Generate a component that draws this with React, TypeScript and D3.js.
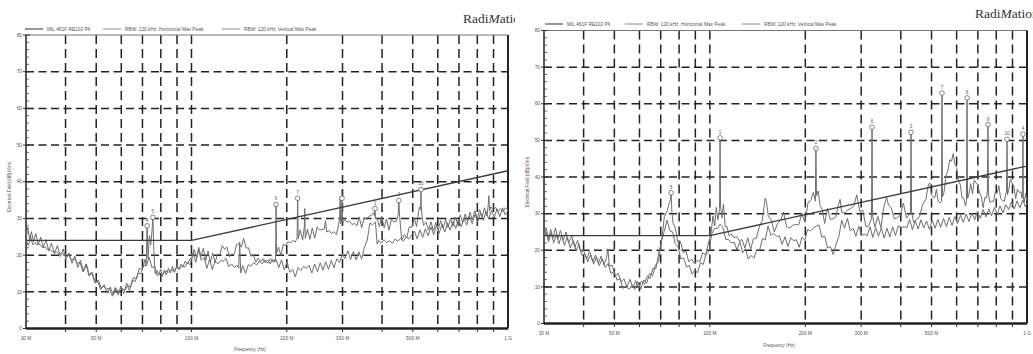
import React from "react";
import * as d3 from "d3";

type Pt = [number, number];

const freqTicks = [30, 50, 100, 200, 300, 500, 1000];
const freqTickLabels = ["30 M", "50 M", "100 M", "200 M", "300 M", "500 M", "1 G"];
const gridFreqs = [40, 50, 60, 70, 80, 90, 100, 200, 300, 400, 500, 600, 700, 800, 900];
const levelTicks = [0, 10, 20, 30, 40, 50, 60, 70, 80];
const minorLevels = [2, 4, 6, 8, 12, 14, 16, 18, 22, 24, 26, 28, 32, 34, 36, 38, 42, 44, 46, 48, 52, 54, 56, 58, 62, 64, 66, 68, 72, 74, 76, 78];
const legendLabels = ["MIL 461F RE102 PK", "RBW: 120 kHz, Horizontal Max Peak", "RBW: 120 kHz, Vertical Max Peak"];
const xTitle = "Frequency (Hz)";
const yTitle = "Electrical Field (dBµV/m)";

const limitLine: Pt[] = [[30, 24], [100, 24], [1000, 43]];

const leftH: Pt[] = [[30,25.2],[30.4,27.6],[30.8,24.1],[31.2,26.4],[31.7,23.6],[32.2,25.9],[32.8,22.8],[33.4,24.9],[34,22.1],[34.7,24.2],[35.4,21.2],[36.1,23.3],[36.9,20.4],[37.7,22.6],[38.5,19.6],[39.3,21.7],[40.1,18.9],[41,20.6],[41.9,17.8],[42.8,19.7],[43.7,16.6],[44.6,18.6],[45.6,15.6],[46.6,17.5],[47.6,14.4],[48.6,15.1],[49.7,12.3],[50.8,13.2],[51.9,10.9],[53,11.9],[54.2,9.6],[55.4,11.3],[56.6,9.1],[57.8,10.9],[59,9.8],[60.3,10.9],[61.6,10.4],[62.9,11.7],[64.2,11.3],[65.6,13.9],[67,13.6],[68.4,16.4],[69.9,16.1],[71.4,18.9],[71.9,17.1],[72.4,28],[72.9,19.1],[73.6,25.3],[74.3,22.8],[75,26.4],[75.5,30.3],[76,21.6],[76.8,14.9],[77.8,15.8],[78.8,14.6],[79.9,16.1],[81,14.2],[82.1,15.9],[83.3,14.6],[84.5,16.4],[85.8,15.1],[87.1,16.9],[88.4,15.3],[89.8,17.1],[91.2,16.2],[92.6,17.6],[94.1,16.9],[95.6,18.4],[97.1,17.6],[98.7,18.9],[100.3,19.1],[102,21.6],[103.7,19.2],[105.4,22.1],[107.2,19.6],[109,21.9],[110.9,18.5],[112.8,21.1],[114.7,18.1],[116.7,20.6],[118.7,17.9],[120.8,20.3],[122.9,20.1],[125,22.6],[127.2,21.6],[129.4,22.2],[131.7,19.5],[134,20.4],[136.4,20.1],[138.8,22.9],[141.2,23.1],[143.7,22.2],[146.2,24.5],[148.8,21.9],[151.4,22],[154.1,19.7],[156.8,20.1],[159.6,18.1],[162.4,19.2],[165.3,18.2],[168.2,19],[171.2,17.9],[174.2,18.7],[177.3,17.6],[180.4,18.9],[183.5,18.1],[184.4,19.5],[185,33.8],[185.6,20.4],[188.3,22.2],[191.6,19.9],[195,23],[198.4,22.6],[201.9,23.7],[205.5,23.3],[209.1,24],[212.8,23.6],[215.6,24.6],[216.5,35.5],[217.4,24.4],[220.6,26.9],[224.5,24.1],[227.3,27.9],[228,32.7],[228.8,24.6],[232.5,27.1],[236.6,24.3],[240.8,27.4],[245.1,24.6],[249.4,27.7],[253.8,26.8],[258.3,27],[262.8,27.1],[265,29.4],[267.5,26.3],[272.2,26.7],[277,25.9],[281.9,26.4],[286.9,25.6],[291.9,28.4],[294,31],[295,36],[296,28.5],[297.8,29.2],[299,35.5],[300.2,28.8],[305,29.6],[310.4,29],[315.9,29.2],[321.5,28.3],[327.2,28.7],[333,28],[338.9,30.4],[344.9,27.5],[351,30.2],[357.2,29.8],[363.5,30.6],[369.9,30.8],[376.4,31.6],[378.5,30.6],[380,32.7],[381.5,29.8],[385.4,30.2],[392.2,27.8],[399.1,30.6],[406.1,27.5],[413.2,29.9],[420.5,26.8],[427.9,29.6],[435.4,29.1],[443,29.2],[448,30.4],[450.2,31.2],[452,34.9],[453.8,31.6],[458,27.2],[462,24.1],[470.5,25.6],[479,24.8],[487.6,27.7],[496.4,27.6],[505.3,30.1],[514.4,27.8],[521.5,31.6],[525,33.1],[529.7,32.4],[531,37.9],[532.3,32.8],[536,30.1],[541,28.1],[550.8,29],[560.7,26.8],[570.8,29.1],[581,26.7],[591.5,28.9],[602.1,26.9],[612.9,29.4],[623.9,27.3],[635.1,29.7],[646.5,27.5],[658.1,30],[669.9,27.9],[681.9,30.4],[694.1,28.3],[706.5,31],[719.1,28.8],[731.9,31.2],[744.9,29.3],[758.2,31.7],[771.7,29.6],[785.4,32.1],[799.4,30],[813.6,32.4],[828.1,30.4],[842.8,32.9],[857.8,30.7],[866,33.6],[870,36.2],[874,32],[882,33.2],[897.9,32.3],[914.1,33],[930.5,32],[947.2,32.7],[964.1,31.8],[981.4,32.9],[1000,32.5]];

const leftV: Pt[] = [[30,24.1],[30.5,22.6],[31,25.2],[31.5,22.8],[32,23.4],[32.6,22.9],[33.2,22.9],[33.8,22.1],[34.5,22.2],[35.2,21.4],[35.9,21.4],[36.7,20.7],[37.5,20.9],[38.3,20.2],[39.1,20.6],[40,19.6],[40.9,19.9],[41.8,18.7],[42.7,19],[43.6,17.8],[44.5,17.9],[45.4,15.4],[46.4,17.5],[47.4,14.4],[48.4,15.4],[49.4,12.7],[50.5,13],[51.6,10.6],[52.7,11.6],[53.8,10.7],[55,11],[56.2,8.8],[57.4,11.2],[58.6,9.1],[59.8,11.6],[61.1,9.5],[62.4,12.4],[63.7,10.3],[65,13.2],[66.4,12.8],[67.8,14.9],[69.2,15],[70.6,17.2],[72,17.1],[73.5,19.4],[75,16.6],[76.5,17],[78,14.3],[79.6,15.1],[81.2,14.8],[82.8,15.7],[84.5,15.3],[86.2,16.1],[87.9,15.6],[89.7,16.6],[91.5,16.1],[93.3,17],[95.2,16.7],[97.1,17.9],[99.1,17.4],[101.1,20.6],[103.2,18.1],[105.3,21.4],[107.4,18.6],[109.6,19.4],[111.8,16.4],[114.1,18.9],[116.4,16],[118.7,18.4],[121.1,17.6],[123.6,18.5],[126.1,18.4],[128.6,19.1],[131.2,16.8],[133.9,17.6],[136.6,16.7],[139.4,17.2],[141,16.4],[142,23.6],[143,15.1],[145.2,17.1],[148.2,15],[151.2,17.4],[154.3,17],[157.4,18],[160.6,17.3],[163.9,18.4],[167.2,17.6],[170.6,18.7],[174.1,17.8],[177.6,19],[181.2,18.1],[184.9,18.9],[188.7,16.6],[192.5,18.7],[196.4,16],[200.4,18.1],[204.5,15.3],[208.6,16.1],[212.8,14.1],[217.1,16.6],[221.5,15.8],[226,16.9],[230.6,16.4],[235.3,17.2],[240.1,15.1],[245,17.6],[250,15.5],[255.1,17.9],[260.3,15.9],[265.6,18.2],[271,16.1],[276.5,18.6],[282.1,16.5],[287.8,19],[293.6,18],[299.6,20.2],[305.7,19.1],[311.9,21.2],[318.2,18.8],[324.7,21],[331.3,18.7],[338,20.9],[344.9,18.9],[351.9,22.2],[359,24],[366.3,28.7],[373.7,28.3],[381.3,29],[386,23],[390,24],[397.9,23.3],[406,24.2],[414.2,23.4],[422.6,23.9],[431.2,23.2],[439.9,24.4],[448.8,23.7],[457.9,24.6],[467.2,23.8],[476.6,24.9],[486.3,24.4],[506.2,26.5],[516.4,24.4],[526.9,26.9],[537.5,24.8],[548.4,27.2],[559.5,25.3],[570.8,27.7],[582.4,25.6],[594.2,28],[606.2,26],[618.5,28.4],[631,26.3],[643.8,28.8],[656.8,26.8],[670.1,29.2],[683.7,27.3],[697.5,29.7],[711.6,27.7],[726,30.1],[740.7,28.2],[755.7,30.6],[771,28.6],[786.6,31.1],[802.5,29.1],[818.8,31.5],[835.4,29.5],[852.3,31.9],[869.5,29.8],[887.1,32.2],[905.1,30.3],[923.4,32.6],[942.1,30.5],[961.2,32.9],[980.6,30.9],[1000,32.2]];

const rightH: Pt[] = [[30,24.2],[30.5,25.9],[31,23],[31.5,25.7],[32,23.3],[32.6,26.1],[33.2,23.1],[33.8,25.4],[34.5,22.7],[35.2,25],[35.9,22],[36.7,23.9],[37.5,20.8],[38.3,22.7],[39.1,19.6],[40,19.9],[40.9,17.6],[41.8,19.7],[42.7,16.8],[43.6,18.7],[44.5,16.4],[45.4,18.4],[46.4,16],[47.2,17.9],[47.7,20.4],[48.2,15.7],[49.2,15.9],[50.3,13],[51.4,13.7],[52.5,11.3],[53.6,12.2],[54.8,10],[56,12.1],[57.2,9.8],[58.4,11.7],[59.6,9.6],[60.9,11.6],[62.2,10.7],[63.5,13],[64.8,12.3],[66.2,15.1],[67.6,15],[69,19.2],[70.4,22.3],[71.9,29.2],[73.4,30.8],[74.5,33],[75.1,33.8],[75.5,35.7],[75.9,30.6],[76.6,27.3],[77.8,26.2],[79.2,22.3],[80.8,22.4],[82.4,19.4],[84.1,19.7],[85.8,16.8],[87.6,17.6],[89.4,16.4],[91.2,17.2],[93.1,17],[95,19.4],[97,18.6],[99,22],[100.8,24.3],[102.3,29.4],[103.6,26.6],[104.8,31.7],[106,28.3],[107.3,31.4],[107.7,50.7],[108.1,32.1],[109.2,28.8],[110.4,32.6],[111.8,26.4],[113.3,26.4],[115,24],[117,24.4],[119.2,23.4],[121.5,23.7],[123.9,22.6],[126.4,22.9],[129,20.6],[131.7,23.4],[134.5,20.3],[137.3,23.2],[140.2,23.3],[143.2,26.4],[146.3,28.1],[149.5,34.2],[151,33.1],[152.8,29.4],[156.2,28.2],[159.7,25],[163.3,27.2],[167,28.1],[170.7,30.4],[174.5,26.4],[178.4,26.1],[182.4,26.8],[186.5,27],[190.7,27],[195,29.9],[199.4,27.6],[203.9,32.9],[208.5,33.8],[212,35.8],[215.1,33.4],[216,47.8],[216.9,34.9],[219.6,36.2],[222.5,32.3],[226,31.2],[230.2,27.3],[234.9,31.4],[239.7,28.4],[244.6,28.6],[249.6,29.1],[254.7,32.6],[257.5,33.9],[260.4,30.4],[266.2,30.2],[272.1,31],[278.1,31.4],[284.3,32.1],[290.6,35.1],[297.1,30.6],[303.7,30.9],[310.5,26.4],[316.4,26.6],[323.3,28.6],[324.6,53.6],[325.9,29.4],[331.3,26.3],[338.7,29.2],[346.2,26.1],[353.9,32],[360.8,34.4],[366,32.3],[373.3,31.6],[381.6,28.6],[390,28.9],[398.7,29.6],[407.6,32.9],[416.6,28.8],[424,29.6],[429.1,30.2],[430.8,52.2],[432.5,30.6],[439.1,27.6],[448.9,28.4],[458.9,29.3],[469.1,32.6],[479.5,33.8],[488.9,37.9],[494,38.4],[499.5,35.1],[505,34.6],[511.8,34.3],[518,36.6],[524.5,33.4],[531,32.9],[537.6,33.4],[539.5,62.9],[541.4,34.6],[547.1,35.7],[556.2,40.6],[563.4,41.8],[570.6,44.7],[577.9,44.3],[585.3,46.4],[592.8,43.4],[600.4,42.6],[608.1,38.8],[615.9,38],[623.8,34.3],[631.8,34.2],[639.9,32.1],[644.5,33.6],[647,61.6],[649.5,34.2],[656,35.3],[664.5,38.2],[673.1,35.4],[681.8,39.2],[690.6,38.4],[699.5,37.9],[708.5,35.6],[717.6,34.7],[726.9,31.6],[736.3,34.4],[745.8,34.3],[750,36.2],[753,54.3],[756,35.4],[764.4,33],[774.3,33.4],[784.3,33.3],[794.5,36],[804.8,35.6],[815.2,37.6],[825.8,34.1],[836.5,33.6],[847.4,33.3],[858.4,35.6],[862,36.1],[865,50.3],[868,35.2],[875,36.3],[886,39.4],[897.4,38.3],[909,37.6],[920.8,34.1],[932.7,36.6],[944.8,35.8],[957,35.9],[965,34.2],[968.5,35.3],[971,51.7],[973.5,34.6],[980,33.1],[990,35.6],[1000,33.4]];

const rightV: Pt[] = [[30,23.4],[30.5,25],[31,22.3],[31.6,24.7],[32.2,22],[32.8,24.4],[33.4,21.7],[34.1,24.1],[34.8,21.3],[35.5,23.6],[36.3,20.6],[37.1,22.7],[37.9,19.8],[38.7,21.7],[39.5,18.6],[40.3,19.1],[41.2,16.8],[42.1,18.9],[43,16.2],[43.9,18.2],[44.8,15.8],[45.8,17.7],[46.8,15.3],[47.8,16.4],[48.8,13.6],[49.9,14.3],[51,11.8],[52.1,12.3],[53.2,9.6],[54.4,10.1],[55.6,9.4],[56.8,10.4],[58,9.3],[59.3,11.4],[60.6,9.4],[61.9,11.9],[63.2,11],[64.6,13.7],[66,13],[67.4,16],[68.9,16.8],[70.4,22.6],[71.8,25.1],[73.3,28.2],[74.8,25.3],[76.3,25],[77.8,21.8],[79.4,20.9],[81,17.6],[82.7,17.9],[84.4,15.4],[86.1,15.9],[87.9,13.5],[89.7,14.6],[91.5,13.8],[93.4,16.6],[95.3,16.1],[97.3,19],[99.3,19.6],[101.3,24.4],[103.4,26],[105.5,25.9],[107.7,27.1],[109.9,26.2],[112.2,23],[114.5,22.9],[116.9,22],[119.3,22.2],[121.8,20.1],[124.3,22.4],[126.9,19.3],[129.5,20.4],[132.2,17.6],[134.9,18.6],[137.7,17.8],[140.6,20.2],[143.5,20],[146.5,23.2],[149.5,22.8],[152.6,26.6],[155.8,24.1],[159,24.6],[162.3,23.8],[165.7,23.9],[169.1,21.6],[172.6,23.7],[176.2,21],[179.9,23.4],[183.6,22.6],[187.4,22.9],[191.3,20.8],[195.3,23.6],[199.4,22.8],[203.5,25.7],[207.7,25.3],[212,26],[216.4,26.6],[220.9,26.9],[225.5,23.5],[230.2,23.9],[235,20.6],[239.9,21],[244.9,18.8],[250,21.6],[255.2,23.8],[260.5,28.2],[265.9,26],[271.4,28.7],[277,25.3],[282.8,26],[288.7,23.8],[294.7,26.6],[300.8,24.1],[307,24.4],[313.4,24],[319.9,26.4],[326.5,23.5],[333.3,26.2],[340.2,23.8],[347.3,26.1],[354.5,23.3],[361.9,26],[369.4,23.6],[377.1,26.4],[384.9,24],[392.9,26.7],[401,26],[409.3,26.5],[417.8,26.1],[426.5,28.4],[435.3,25.6],[444.3,28.1],[453.5,25.8],[462.9,28.3],[472.5,26.1],[482.3,28],[492.3,25.7],[502.5,28.2],[513,26],[523.6,28.4],[534.5,26.3],[545.6,28.7],[556.9,26.5],[568.5,29],[580.3,26.8],[592.3,29.2],[604.6,27.3],[617.1,29.6],[629.9,27.6],[643,29.9],[656.3,27.8],[669.9,30.2],[683.8,28.3],[698,30.6],[712.5,28.7],[727.3,31.1],[742.4,29.1],[757.8,31.3],[773.5,29.4],[789.5,31.7],[805.9,29.8],[822.6,32.1],[839.7,30.2],[857.1,32.4],[874.9,31.1],[893,33.2],[911.5,31.3],[930.4,33.5],[949.7,31.6],[969.4,33.7],[989.5,31.8],[1000,33]];

type Marker = { label: string; f: number; v: number };
const leftMarkers: Marker[] = [
  { label: "4", f: 72.4, v: 28 },
  { label: "5", f: 75.5, v: 30.3 },
  { label: "6", f: 185, v: 33.8 },
  { label: "7", f: 216.5, v: 35.5 },
  { label: "8", f: 299, v: 35.5 },
  { label: "1", f: 380, v: 32.7 },
  { label: "2", f: 452, v: 34.9 },
  { label: "10", f: 531, v: 37.9 },
];
const rightMarkers: Marker[] = [
  { label: "5", f: 75.5, v: 35.7 },
  { label: "1", f: 107.7, v: 50.7 },
  { label: "2", f: 216, v: 47.8 },
  { label: "6", f: 324.6, v: 53.6 },
  { label: "3", f: 430.8, v: 52.2 },
  { label: "7", f: 539.5, v: 62.9 },
  { label: "8", f: 647, v: 61.6 },
  { label: "9", f: 753, v: 54.3 },
  { label: "10", f: 865, v: 50.3 },
  { label: "4", f: 971, v: 51.7 },
];

const SANS = "Liberation Sans, Arial, sans-serif";

type PanelProps = {
  id: string;
  clipX0: number;
  clipX1: number;
  x0: number;
  x1: number;
  yb: number;
  yt: number;
  h: Pt[];
  v: Pt[];
  markers: Marker[];
  legendY: number;
  legendXs: number[];
  logoX: number;
  logoY: number;
  tickLabelY: number;
  xTitleX: number;
  xTitleY: number;
  yTitleX: number;
};

function Panel(p: PanelProps) {
  const x = d3.scaleLog().domain([30, 1000]).range([p.x0, p.x1]);
  const y = d3.scaleLinear().domain([0, 80]).range([p.yb, p.yt]);
  const line = d3.line<Pt>().x((d) => x(d[0])).y((d) => y(d[1]));
  const grid = "#222";
  const trace = "#6e6e6e";
  return (
    <g clipPath={`url(#clip-${p.id})`}>
      <defs>
        <clipPath id={`clip-${p.id}`}>
          <rect x={p.clipX0} y={0} width={p.clipX1 - p.clipX0} height={354} />
        </clipPath>
      </defs>
      <text x={p.logoX} y={p.logoY} fontFamily="Liberation Serif, Times New Roman, serif" fontSize={13.5} fill="#333">
        Radi<tspan fontStyle="italic">M</tspan>ation
      </text>
      {legendLabels.map((lab, i) => (
        <g key={lab}>
          <line x1={p.legendXs[i]} x2={p.legendXs[i] + 18} y1={p.legendY} y2={p.legendY} stroke={i === 0 ? "#333" : "#888"} strokeWidth={1} />
          <text x={p.legendXs[i] + 22} y={p.legendY + 1.7} fontFamily={SANS} fontSize={4.8} fill="#555">{lab}</text>
        </g>
      ))}
      {levelTicks.filter((t) => t > 0 && t < 80).map((t) => (
        <line key={`h${t}`} x1={p.x0} x2={p.x1} y1={y(t)} y2={y(t)} stroke={grid} strokeWidth={1.5} strokeDasharray="8,4.5" />
      ))}
      {gridFreqs.map((f) => (
        <line key={`v${f}`} x1={x(f)} x2={x(f)} y1={p.yt} y2={p.yb} stroke={grid} strokeWidth={1.5} strokeDasharray="9,5" />
      ))}
      <line x1={p.x0} x2={p.x1} y1={p.yt} y2={p.yt} stroke="#777" strokeWidth={1} />
      <line x1={p.x1} x2={p.x1} y1={p.yt} y2={p.yb} stroke="#222" strokeWidth={2} />
      <line x1={p.x0} x2={p.x0} y1={p.yt} y2={p.yb} stroke="#222" strokeWidth={1.5} />
      {minorLevels.map((t) => (
        <line key={`m${t}`} x1={p.x0} x2={p.x0 + 3} y1={y(t)} y2={y(t)} stroke="#444" strokeWidth={0.8} />
      ))}
      {levelTicks.map((t) => (
        <g key={`yt${t}`}>
          <line x1={p.x0 - 3} x2={p.x0 + 4} y1={y(t)} y2={y(t)} stroke="#333" strokeWidth={1} />
          <text x={p.x0 - 4} y={y(t) + 1.7} textAnchor="end" fontFamily={SANS} fontSize={4.8} fill="#555">{t}</text>
        </g>
      ))}
      <line x1={p.x0} x2={p.x1} y1={p.yb} y2={p.yb} stroke="#222" strokeWidth={2.5} />
      {gridFreqs.map((f) => (
        <line key={`xt${f}`} x1={x(f)} x2={x(f)} y1={p.yb} y2={p.yb + 3.5} stroke="#333" strokeWidth={1} />
      ))}
      {freqTicks.map((f, i) => (
        <text key={`xl${f}`} x={x(f)} y={p.tickLabelY} textAnchor="middle" fontFamily={SANS} fontSize={4.8} fill="#555">{freqTickLabels[i]}</text>
      ))}
      <text x={p.xTitleX} y={p.xTitleY} textAnchor="middle" fontFamily={SANS} fontSize={4.6} fill="#555">{xTitle}</text>
      <text transform={`translate(${p.yTitleX},${(p.yt + p.yb) / 2 + 5}) rotate(-90)`} textAnchor="middle" fontFamily={SANS} fontSize={4.6} fill="#555">{yTitle}</text>
      <path d={line(p.v) || ""} fill="none" stroke={trace} strokeWidth={1} strokeLinejoin="round" />
      <path d={line(p.h) || ""} fill="none" stroke={trace} strokeWidth={1} strokeLinejoin="round" />
      <path d={line(limitLine) || ""} fill="none" stroke="#3c3c3c" strokeWidth={1.3} />
      {p.markers.map((m) => (
        <g key={`mk${m.label}${m.f}`}>
          <circle cx={x(m.f)} cy={y(m.v)} r={2.3} fill="white" stroke="#666" strokeWidth={0.8} />
          <text x={x(m.f)} y={y(m.v) - 4} textAnchor="middle" fontFamily={SANS} fontSize={4.6} fill="#555">{m.label}</text>
        </g>
      ))}
    </g>
  );
}

export default function App() {
  return (
    <svg width={1033} height={354} style={{ position: "absolute", left: 0, top: 0, background: "white" }}>
      <rect x={0} y={0} width={1033} height={354} fill="white" />
      <Panel
        id="left"
        clipX0={0}
        clipX1={515}
        x0={26}
        x1={508}
        yb={328.5}
        yt={35}
        h={leftH}
        v={leftV}
        markers={leftMarkers}
        legendY={29}
        legendXs={[25, 103, 222]}
        logoX={463}
        logoY={23}
        tickLabelY={340}
        xTitleX={250}
        xTitleY={351}
        yTitleX={11}
      />
      <Panel
        id="right"
        clipX0={515}
        clipX1={1033}
        x0={544}
        x1={1027}
        yb={323.5}
        yt={30.5}
        h={rightH}
        v={rightV}
        markers={rightMarkers}
        legendY={24}
        legendXs={[545, 625, 742]}
        logoX={975}
        logoY={18}
        tickLabelY={335}
        xTitleX={779}
        xTitleY={347}
        yTitleX={529}
      />
    </svg>
  );
}
